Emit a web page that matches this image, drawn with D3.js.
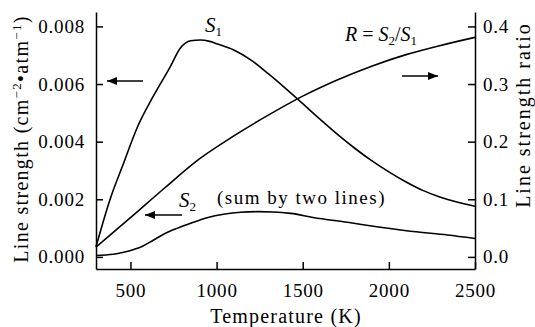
<!DOCTYPE html>
<html>
<head>
<meta charset="utf-8">
<script src="https://cdn.jsdelivr.net/npm/d3@7"></script>
<style>
  body { margin: 0; background: #fff; }
  svg { display: block; }
  svg text { font-family: "Liberation Serif", "Times New Roman", Tinos, "DejaVu Serif", "Noto Serif", FreeSerif, Times, serif; }
</style>
</head>
<body>
<svg id="chart" width="535" height="327"></svg>
<script>
// temperature (K) and line strength S1 (cm^-2 atm^-1)
const tempS1 = [300, 380, 460, 540, 630, 730, 790, 850, 905, 960, 1000, 1100, 1200, 1300, 1400, 1500, 1600, 1700, 1800, 1900, 2000, 2100, 2200, 2300, 2400, 2500];
const s1Values = [0.00035, 0.00197, 0.00325, 0.0045, 0.00555, 0.00659, 0.00725, 0.0075, 0.00753, 0.00748, 0.0074, 0.00718, 0.00683, 0.00636, 0.00585, 0.00532, 0.00478, 0.00426, 0.00378, 0.00334, 0.00295, 0.0026, 0.0023, 0.00207, 0.0019, 0.00176];

// S2 (sum by two lines)
const tempS2 = [300, 400, 460, 520, 570, 630, 690, 770, 850, 950, 1040, 1140, 1240, 1330, 1430, 1560, 1760, 1950, 2140, 2340, 2500];
const s2Values = [0.00005, 0.00009, 0.00016, 0.00026, 0.00037, 0.00057, 0.00078, 0.00099, 0.00117, 0.00137, 0.00148, 0.00155, 0.00157, 0.00156, 0.00151, 0.00137, 0.0012, 0.00103, 0.00088, 0.00076, 0.00064];

// R = S2/S1 on the right axis
const tempR = [300, 500, 700, 900, 1100, 1300, 1500, 1700, 1900, 2100, 2300, 2500];
const rValues = [0.017, 0.068, 0.12, 0.17, 0.21, 0.246, 0.279, 0.307, 0.331, 0.351, 0.367, 0.381];

const xTicks = [500, 1000, 1500, 2000, 2500];
const leftTicks = [0, 0.002, 0.004, 0.006, 0.008];
const rightTicks = [0, 0.1, 0.2, 0.3, 0.4];

const svg = d3.select("#chart");
const plotLeft = 96, plotRight = 475, plotTop = 12, plotBottom = 269;

const x = d3.scaleLinear().domain([300, 2500]).range([plotLeft, plotRight]);
const yL = d3.scaleLinear().domain([-0.00042, 0.0085]).range([plotBottom, plotTop]);
const yR = d3.scaleLinear().domain([-0.021, 0.425]).range([plotBottom, plotTop]);

// AXES - ticks point inward
const gx = svg.append("g")
  .attr("transform", `translate(0,${plotBottom})`)
  .call(d3.axisBottom(x).tickValues(xTicks).tickSizeInner(-7).tickSizeOuter(0).tickPadding(15).tickFormat(d3.format("d")));

const gl = svg.append("g")
  .attr("transform", `translate(${plotLeft},0)`)
  .call(d3.axisLeft(yL).tickValues(leftTicks).tickSizeInner(-7).tickSizeOuter(0).tickPadding(11).tickFormat(d3.format(".3f")));

const gr = svg.append("g")
  .attr("transform", `translate(${plotRight},0)`)
  .call(d3.axisRight(yR).tickValues(rightTicks).tickSizeInner(-7).tickSizeOuter(0).tickPadding(8).tickFormat(d3.format(".1f")));

[gx, gl, gr].forEach((g) => {
  g.attr("font-family", null).attr("font-size", null);
  g.selectAll("path, line").attr("stroke", "#000").attr("stroke-width", 1.5);
  g.selectAll("text")
    .attr("fill", "#000")
    .style("font-size", "19px")
    .style("letter-spacing", "0.8px");
});

// CURVES
const lineL = d3.line().x((d) => x(d[0])).y((d) => yL(d[1])).curve(d3.curveMonotoneX);
const lineR = d3.line().x((d) => x(d[0])).y((d) => yR(d[1])).curve(d3.curveMonotoneX);

const curves = [
  lineL(d3.zip(tempS1, s1Values)),
  lineL(d3.zip(tempS2, s2Values)),
  lineR(d3.zip(tempR, rValues))
];

svg.selectAll(".curve").data(curves).enter()
  .append("path")
  .attr("class", "curve")
  .attr("d", (d) => d)
  .attr("fill", "none")
  .attr("stroke", "#000")
  .attr("stroke-width", 1.6);

// ARROWS
svg.append("defs").append("marker")
  .attr("id", "head")
  .attr("viewBox", "0 0 10 8")
  .attr("refX", 10).attr("refY", 4)
  .attr("markerWidth", 11).attr("markerHeight", 8)
  .attr("markerUnits", "userSpaceOnUse")
  .attr("orient", "auto")
  .append("path")
  .attr("d", "M0,0 L10,4 L0,8 Z")
  .attr("fill", "#000");

const arrows = [
  [143, 81, 107, 81],
  [402, 76, 438, 76],
  [182, 215, 145, 215]
];
svg.selectAll(".arrow").data(arrows).enter()
  .append("line")
  .attr("x1", (d) => d[0]).attr("y1", (d) => d[1])
  .attr("x2", (d) => d[2]).attr("y2", (d) => d[3])
  .attr("stroke", "#000").attr("stroke-width", 1.5)
  .attr("marker-end", "url(#head)");

// LABELS
const label = (xp, yp, size) => svg.append("text")
  .attr("x", xp).attr("y", yp)
  .attr("fill", "#000")
  .style("font-size", size + "px");

function subLabel(t, base, sub) {
  t.append("tspan").style("font-style", "italic").text(base);
  t.append("tspan").attr("dy", 4).style("font-size", "13px").text(sub);
}

subLabel(label(205, 32, 21), "S", "1");
subLabel(label(179, 207, 21), "S", "2");

const rl = label(345, 41, 20);
rl.append("tspan").style("font-style", "italic").text("R");
rl.append("tspan").text(" = ");
rl.append("tspan").style("font-style", "italic").text("S");
rl.append("tspan").attr("dy", 4).style("font-size", "13px").text("2");
rl.append("tspan").attr("dy", -4).text("/");
rl.append("tspan").style("font-style", "italic").text("S");
rl.append("tspan").attr("dy", 4).style("font-size", "13px").text("1");

label(217, 204, 19).style("letter-spacing", "1.5px").text("(sum by two lines)");

label(286, 323, 20).attr("text-anchor", "middle").style("letter-spacing", "1.2px").text("Temperature (K)");

const yt = svg.append("text")
  .attr("transform", "translate(28,139) rotate(-90)")
  .attr("text-anchor", "middle")
  .attr("fill", "#000")
  .style("font-size", "20px")
  .style("letter-spacing", "1.3px");
yt.append("tspan").text("Line strength (cm");
yt.append("tspan").attr("dy", -7).style("font-size", "13px").text("\u22122");
yt.append("tspan").attr("dy", 7).text("\u2022atm");
yt.append("tspan").attr("dy", -7).style("font-size", "13px").text("\u22121");
yt.append("tspan").attr("dy", 7).text(")");

svg.append("text")
  .attr("transform", "translate(530,115) rotate(-90)")
  .attr("text-anchor", "middle")
  .attr("fill", "#000")
  .style("font-size", "20px")
  .style("letter-spacing", "2px")
  .text("Line strength ratio");
</script>
</body>
</html>
